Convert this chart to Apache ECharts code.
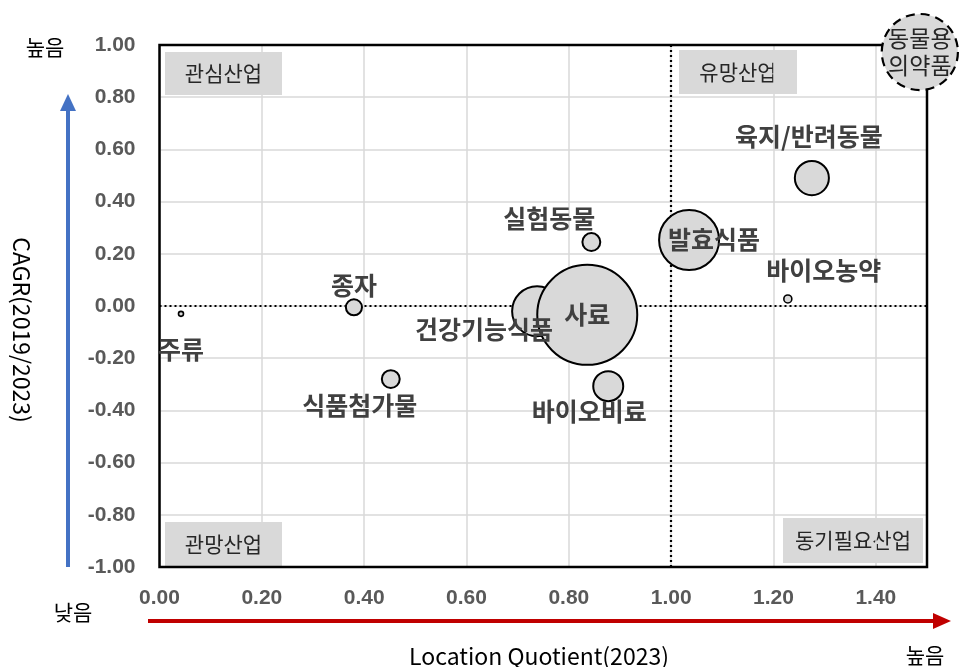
<!DOCTYPE html>
<html>
<head>
<meta charset="utf-8">
<script src="https://cdn.jsdelivr.net/npm/echarts@6/dist/echarts.min.js"></script>
<style>
  html, body { margin: 0; padding: 0; background: #fff; }
  #chart { width: 961px; height: 667px; }
</style>
</head>
<body>
<div id="chart"></div>
<script>
// Industry positioning: location quotient vs. growth rate, bubble = market size
const industries = ['주류', '종자', '식품첨가물', '건강기능식품', '사료', '실험동물', '발효식품', '바이오비료', '바이오농약', '육지/반려동물', '동물용\n의약품'];
const locationQuotient = [0.042, 0.380, 0.452, 0.738, 0.836, 0.844, 1.035, 0.877, 1.228, 1.275, 1.486];
const cagr = [-0.030, -0.005, -0.280, -0.020, -0.034, 0.245, 0.253, -0.307, 0.027, 0.490, 0.973];
const marketSize = [0.25, 2.6, 3.2, 25, 100, 3.2, 36, 9, 0.64, 11.6, 58];
const xTicks = ['0.00', '0.20', '0.40', '0.60', '0.80', '1.00', '1.20', '1.40'];
const yTicks = ['-1.00', '-0.80', '-0.60', '-0.40', '-0.20', '0.00', '0.20', '0.40', '0.60', '0.80', '1.00'];

// label placement per bubble (pixel offsets from bubble centre)
const labelOffsets = [[0, 36], [0, -22], [-31, 26], [-53, 18], [0, 0], [-42, -24], [25, 0], [-19, 25], [36, -28], [-3, -42], [0, 0]];

const KR = '"Noto Sans CJK KR", "Noto Sans", sans-serif';
const TICK = '"Liberation Sans", "Noto Sans", sans-serif';

const points = industries.map((name, i) => {
  const last = i === industries.length - 1;
  return {
    name: name,
    value: [locationQuotient[i], cagr[i], marketSize[i]],
    itemStyle: last
      ? { color: '#d9d9d9', opacity: 1, borderColor: '#000', borderWidth: 2.2, borderType: [9, 6] }
      : { color: '#d9d9d9', opacity: 1, borderColor: '#000', borderWidth: marketSize[i] < 1 ? 1.6 : 2 },
    label: {
      show: true,
      formatter: '{b}',
      position: 'inside',
      offset: labelOffsets[i],
      color: last ? '#262626' : '#404040',
      fontWeight: last ? 'normal' : 'bold',
      fontSize: last ? 23 : 25,
      lineHeight: last ? 27 : 28,
      fontFamily: KR
    }
  };
});

const chart = echarts.init(document.getElementById('chart'), null, { renderer: 'canvas' });

const quadBox = (x, y, w, h, text) => ({
  type: 'group', left: x, top: y, z: 5,
  children: [
    { type: 'rect', shape: { x: 0, y: 0, width: w, height: h }, style: { fill: '#d9d9d9' } },
    { type: 'text', style: { x: w / 2, y: h / 2, text: text, align: 'center', verticalAlign: 'middle',
        fill: '#262626', font: '21px ' + KR } }
  ]
});

chart.setOption({
  animation: false,
  backgroundColor: '#fff',
  grid: { left: 159.5, right: 34, top: 45, bottom: 100 },
  xAxis: {
    type: 'value', min: 0, max: 1.5, interval: 0.2,
    axisLine: { show: false }, axisTick: { show: false },
    splitLine: { lineStyle: { color: '#d9d9d9', width: 1.5 } },
    axisLabel: {
      margin: 21, color: '#595959', fontWeight: 'bold', fontSize: 21, fontFamily: TICK,
      showMaxLabel: false,
      formatter: v => { const i = Math.round(v / 0.2); return (Math.abs(v - i * 0.2) < 1e-6 && xTicks[i]) ? xTicks[i] : ''; }
    }
  },
  yAxis: {
    type: 'value', min: -1, max: 1, interval: 0.2,
    axisLine: { show: false }, axisTick: { show: false },
    splitLine: { lineStyle: { color: '#d9d9d9', width: 1.5 } },
    axisLabel: {
      margin: 24, color: '#595959', fontWeight: 'bold', fontSize: 21, fontFamily: TICK,
      formatter: v => yTicks[Math.round((v + 1) / 0.2)] || ''
    }
  },
  series: [{
    type: 'scatter',
    clip: false,
    z: 10,
    data: points,
    symbolSize: d => 10 * Math.sqrt(d[2]),
    markLine: {
      silent: true, symbol: 'none', z: 3,
      label: { show: false },
      lineStyle: { color: '#000', type: [2, 3], width: 2.2 },
      data: [{ xAxis: 1 }, { yAxis: 0 }]
    }
  }],
  graphic: [
    // plot frame
    { type: 'rect', z: 1, shape: { x: 159.5, y: 45, width: 767.5, height: 522 }, style: { fill: 'none', stroke: '#000', lineWidth: 2.5 } },
    quadBox(165, 52, 117, 43, '관심산업'),
    quadBox(679, 50, 118, 44, '유망산업'),
    quadBox(165, 522, 117, 44, '관망산업'),
    quadBox(783, 518, 140, 45, '동기필요산업'),
    // vertical growth arrow
    { type: 'line', shape: { x1: 68, y1: 567, x2: 68, y2: 108 }, style: { stroke: '#4472c4', lineWidth: 4 } },
    { type: 'polygon', shape: { points: [[68, 94], [60, 111], [76, 111]] }, style: { fill: '#4472c4' } },
    // horizontal location-quotient arrow
    { type: 'line', shape: { x1: 148, y1: 621, x2: 935, y2: 621 }, style: { stroke: '#c00000', lineWidth: 4 } },
    { type: 'polygon', shape: { points: [[951, 621], [933, 613], [933, 629]] }, style: { fill: '#c00000' } },
    // axis titles and direction hints
    { type: 'text', x: 539, y: 656, style: { text: 'Location Quotient(2023)', fill: '#000', font: '23px ' + KR, align: 'center', verticalAlign: 'middle' } },
    { type: 'text', x: 22, y: 330, rotation: -Math.PI / 2, style: { text: 'CAGR(2019/2023)', fill: '#000', font: '23px ' + KR, align: 'center', verticalAlign: 'middle' } },
    { type: 'text', x: 45, y: 47, style: { text: '높음', fill: '#000', font: '21px ' + KR, align: 'center', verticalAlign: 'middle' } },
    { type: 'text', x: 73, y: 612, style: { text: '낮음', fill: '#000', font: '21px ' + KR, align: 'center', verticalAlign: 'middle' } },
    { type: 'text', x: 925, y: 655, style: { text: '높음', fill: '#000', font: '21px ' + KR, align: 'center', verticalAlign: 'middle' } }
  ]
});
</script>
</body>
</html>
